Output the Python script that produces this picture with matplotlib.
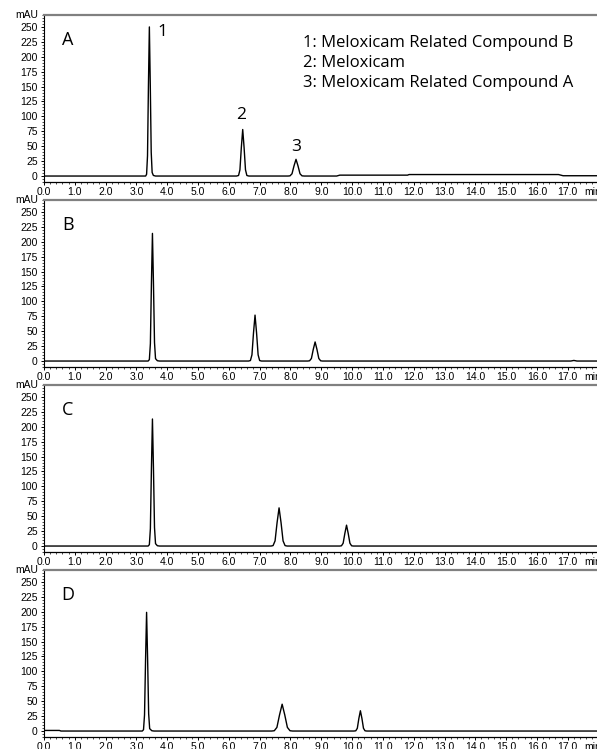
import matplotlib
matplotlib.use("Agg")
import matplotlib.pyplot as plt
from matplotlib.ticker import MultipleLocator, FormatStrFormatter

# Chromatogram traces (time in min, signal in mAU)
t_a = [0.00, 1.70, 3.30, 3.33, 3.36, 3.39, 3.42, 3.45, 3.48, 3.51, 3.55, 3.62,
       6.25, 6.315, 6.36, 6.405, 6.45, 6.495, 6.54, 6.585, 6.65,
       7.92, 7.985, 8.05, 8.115, 8.18, 8.245, 8.31, 8.375, 8.45,
       9.50, 9.60, 11.80, 11.85, 16.70, 16.85, 17.95]
y_a = [0, 0, 0, 3, 34, 152, 250, 152, 40, 6, 1, 0,
       0, 0.9, 10.5, 47.6, 78, 47.6, 10.5, 0.9, 0,
       0, 0.3, 3.8, 17, 28, 17, 3.8, 0.3, 0,
       0, 1.5, 1.5, 2.5, 2.5, 0.5, 0.5]

t_b = [0.00, 3.38, 3.42, 3.453, 3.487, 3.52, 3.553, 3.587, 3.62, 3.68, 3.75,
       6.64, 6.70, 6.75, 6.80, 6.85, 6.90, 6.95, 7.00, 7.06,
       8.56, 8.62, 8.68, 8.74, 8.80, 8.86, 8.92, 8.98, 9.04,
       17.10, 17.20, 17.30, 17.95]
y_b = [0, 0, 2.4, 29, 130, 214, 130, 31, 4, 0.5, 0,
       0, 0.8, 10.4, 47, 77, 47, 10.4, 0.8, 0,
       0, 0.4, 4.3, 19.5, 32, 19.5, 4.3, 0.4, 0,
       0, 1, 0, 0]

t_c = [0.00, 3.38, 3.42, 3.453, 3.487, 3.52, 3.553, 3.587, 3.62, 3.68, 3.75,
       7.37, 7.435, 7.50, 7.565, 7.63, 7.695, 7.76, 7.825, 7.89,
       9.60, 9.655, 9.71, 9.765, 9.82, 9.875, 9.93, 9.985, 10.04, 17.95]
y_c = [0, 0, 2.3, 29, 130, 213, 130, 31, 4, 0.5, 0,
       0, 0.7, 8.6, 39, 64, 39, 8.6, 0.7, 0,
       0, 0.4, 4.7, 21, 35, 21, 4.7, 0.4, 0, 0]

t_d = [0.00, 0.50, 0.55, 3.19, 3.23, 3.263, 3.297, 3.33, 3.363, 3.397, 3.43,
       3.50, 3.57,
       7.39, 7.475, 7.56, 7.645, 7.73, 7.815, 7.90, 7.985, 8.07,
       10.06, 10.12, 10.17, 10.22, 10.27, 10.32, 10.37, 10.42, 10.48, 17.95]
y_d = [1, 1, 0, 0, 2.2, 27, 121, 199, 121, 29, 4,
       0.5, 0,
       0, 0.5, 6.1, 27, 45, 27, 6.1, 0.5, 0,
       0, 0.4, 4.6, 21, 34, 21, 4.6, 0.4, 0, 0]

traces = [(t_a, y_a), (t_b, y_b), (t_c, y_c), (t_d, y_d)]
panel_letters = ["A", "B", "C", "D"]

peak_labels = ["1", "2", "3"]
peak_label_pos = [(3.86, 242), (6.40, 102), (8.18, 49)]
legend_lines = ["1: Meloxicam Related Compound B",
                "2: Meloxicam",
                "3: Meloxicam Related Compound A"]

W, H = 597, 749
fig = plt.figure(figsize=(W / 100, H / 100), dpi=100)

tick_font = "Liberation Sans"
label_font = "Open Sans"

for i, (t, y) in enumerate(traces):
    top = 15 + 185 * i
    bot = 182 + 185 * i
    ax = fig.add_axes([44 / W, 1 - bot / H, (W - 44) / W, (bot - top) / H])
    ax.plot(t, y, color="black", lw=1.0)
    ax.set_xlim(0, 17.95)
    ax.set_ylim(-10, 270)

    ax.spines["right"].set_visible(False)
    ax.spines["top"].set_color("#808080")
    ax.spines["top"].set_linewidth(1.6)
    ax.spines["left"].set_linewidth(0.8)
    ax.spines["bottom"].set_linewidth(0.9)

    ax.xaxis.set_minor_locator(MultipleLocator(0.2))
    ax.xaxis.set_major_formatter(FormatStrFormatter("%.1f"))
    ax.set_xticks([v for v in range(18)])
    ax.yaxis.set_minor_locator(MultipleLocator(5))
    ax.set_yticks(range(0, 251, 25))
    ax.tick_params(which="major", direction="out", length=2.5, width=0.7,
                   labelsize=7.5, pad=1.0)
    ax.tick_params(which="minor", direction="out", length=1.3, width=0.5)
    ax.tick_params(axis="y", which="major", pad=2)
    for lab in ax.get_xticklabels() + ax.get_yticklabels():
        lab.set_fontfamily(tick_font)

    # unit label sits past the last tick and is cut by the figure edge
    ax.annotate("min", xy=(17.55, 0), xycoords=("data", "axes fraction"),
                xytext=(0, -3.6), textcoords="offset points",
                ha="left", va="top", fontsize=7.5, family=tick_font)
    ax.annotate("mAU", xy=(0, 1), xycoords="axes fraction",
                xytext=(-4, 0), textcoords="offset points",
                ha="right", va="center", fontsize=7.5, family=tick_font)

    ax.text(0.78, 228, panel_letters[i], fontsize=13, family=label_font,
            ha="center", va="center")

    if i == 0:
        for lab, (px, py) in zip(peak_labels, peak_label_pos):
            ax.text(px, py, lab, fontsize=12.5, family=label_font,
                    ha="center", va="center")
        for k, line in enumerate(legend_lines):
            ax.text(8.41, 223 - 33.5 * k, line, fontsize=12, family=label_font,
                    ha="left", va="center")

fig.savefig("out.png", dpi=100)
